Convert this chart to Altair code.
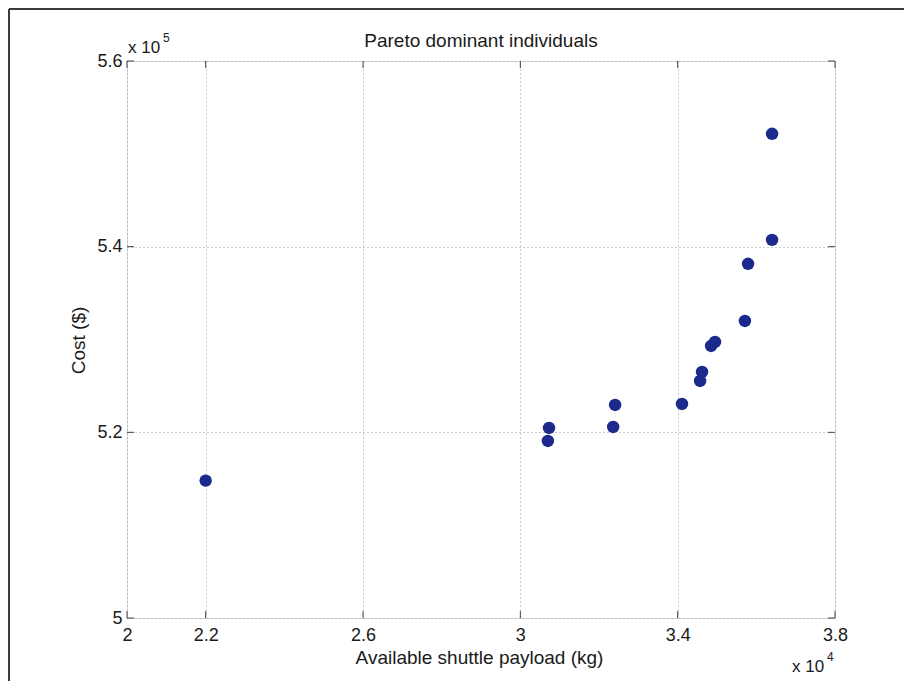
import altair as alt
import pandas as pd

# Data (payload in kg, cost in $)
payload = [22000, 30700, 30730, 32360, 32410, 34110, 34570, 34620, 34850, 34950, 35710, 35790, 36400, 36400]
cost = [514800, 519070, 520470, 520580, 522950, 523060, 525540, 526510, 529310, 529740, 532000, 538150, 540730, 552160]

x_ticks = [20000, 22000, 26000, 30000, 34000, 38000]
y_ticks = [500000, 520000, 540000, 560000]

title_text = "Pareto dominant individuals"

FONT = "Liberation Sans"
FS = 18
TFS = 19
W, H = 708, 557
TXT = "#1a1a1a"

df = pd.DataFrame({"payload": payload, "cost": cost})
xt = pd.DataFrame({"t": x_ticks})
yt = pd.DataFrame({"t": y_ticks})

xscale = alt.Scale(domain=[20000, 38000], nice=False, zero=False)
yscale = alt.Scale(domain=[500000, 560000], nice=False, zero=False)

points = alt.Chart(df).mark_circle(size=155, color="#1b2a8c", opacity=1).encode(
    x=alt.X("payload:Q", scale=xscale,
            axis=alt.Axis(values=x_ticks, labelExpr="datum.value/10000",
                          title="Available shuttle payload (kg)",
                          titleX=352, titleY=45, titleBaseline="alphabetic",
                          titleFontSize=TFS, titleFontWeight="normal",
                          labelFontSize=FS, labelPadding=8, tickSize=0,
                          domain=False, grid=True, gridDash=[1, 3],
                          gridColor="#9a9a9a", gridWidth=1,
                          labelColor=TXT, titleColor=TXT,
                          labelFont=FONT, titleFont=FONT, labelFlush=False)),
    y=alt.Y("cost:Q", scale=yscale,
            axis=alt.Axis(values=y_ticks, labelExpr="datum.value/100000",
                          title="Cost ($)", titleAngle=-90,
                          titleX=-49, titleY=279, titleAlign="center",
                          titleBaseline="middle",
                          titleFontSize=TFS, titleFontWeight="normal",
                          labelFontSize=FS, labelPadding=5, tickSize=0,
                          domain=False, grid=True, gridDash=[1, 3],
                          gridColor="#9a9a9a", gridWidth=1,
                          labelColor=TXT, titleColor=TXT,
                          labelFont=FONT, titleFont=FONT, labelFlush=False)),
)

TL = 7
tick_col = "#444444"
xt_bottom = alt.Chart(xt).mark_rule(color=tick_col, strokeWidth=1).encode(
    x=alt.X("t:Q", scale=xscale), y=alt.value(H - TL), y2=alt.value(H))
xt_top = alt.Chart(xt).mark_rule(color=tick_col, strokeWidth=1).encode(
    x=alt.X("t:Q", scale=xscale), y=alt.value(0), y2=alt.value(TL))
yt_left = alt.Chart(yt).mark_rule(color=tick_col, strokeWidth=1).encode(
    y=alt.Y("t:Q", scale=yscale), x=alt.value(0), x2=alt.value(TL))
yt_right = alt.Chart(yt).mark_rule(color=tick_col, strokeWidth=1).encode(
    y=alt.Y("t:Q", scale=yscale), x=alt.value(W - TL), x2=alt.value(W))

one = pd.DataFrame({"a": [0]})

# chart title as a text mark
title_mark = alt.Chart(one).mark_text(text=title_text, font=FONT, fontSize=TFS,
                                      align="center", baseline="alphabetic",
                                      color=TXT).encode(
    x=alt.value(354), y=alt.value(-14))

# multiplier annotations
x10_5 = alt.Chart(one).mark_text(text="x 10", font=FONT, fontSize=17, align="left",
                                 baseline="alphabetic", color=TXT).encode(
    x=alt.value(1), y=alt.value(-8))
sup5 = alt.Chart(one).mark_text(text="5", font=FONT, fontSize=12, align="left",
                                baseline="alphabetic", color=TXT).encode(
    x=alt.value(36), y=alt.value(-19))
x10_4 = alt.Chart(one).mark_text(text="x 10", font=FONT, fontSize=17, align="left",
                                 baseline="alphabetic", color=TXT).encode(
    x=alt.value(665), y=alt.value(611))
sup4 = alt.Chart(one).mark_text(text="4", font=FONT, fontSize=12, align="left",
                                baseline="alphabetic", color=TXT).encode(
    x=alt.value(700), y=alt.value(600))

# outer picture frame (left and top edges)
frame_left = alt.Chart(one).mark_rule(color="#3a3a3a", strokeWidth=2).encode(
    x=alt.value(-118), y=alt.value(-52), y2=alt.value(640))
frame_top = alt.Chart(one).mark_rule(color="#3a3a3a", strokeWidth=2).encode(
    y=alt.value(-52), x=alt.value(-118), x2=alt.value(800))

chart = alt.layer(
    points, xt_bottom, xt_top, yt_left, yt_right, title_mark,
    x10_5, sup5, x10_4, sup4, frame_left, frame_top
).properties(
    width=W, height=H,
    autosize=alt.AutoSizeParams(type="none"),
    padding={"left": 119, "top": 53, "right": 69, "bottom": 63},
).configure_view(
    stroke="#4a4a4a", strokeWidth=1.2
).configure(background="white")

chart.save("out.html", embed_options={"renderer": "svg", "actions": False})
